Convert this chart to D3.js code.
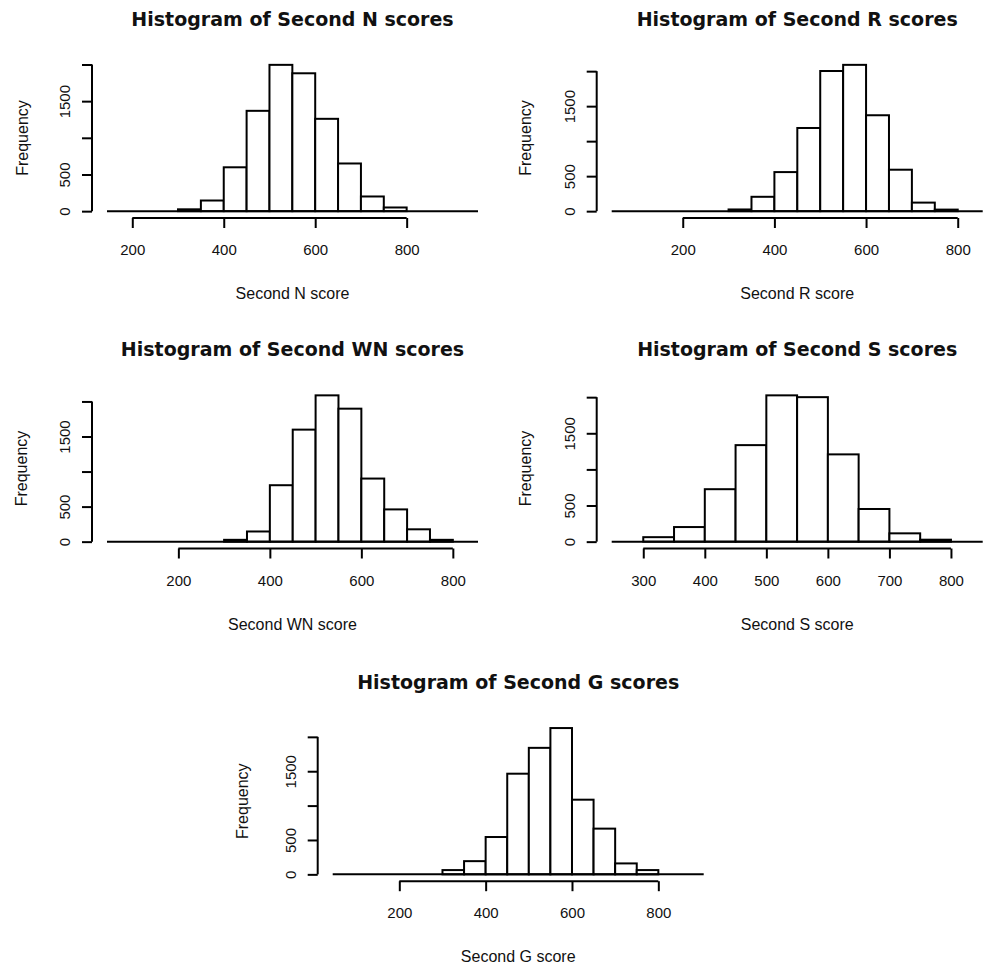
<!DOCTYPE html>
<html>
<head>
<meta charset="utf-8">
<script src="https://cdn.jsdelivr.net/npm/d3@7"></script>
<style>
  html, body { margin: 0; padding: 0; background: #fff; }
  svg { display: block; }
</style>
</head>
<body>
<svg id="chart" width="983" height="967"></svg>
<script>
// ---------- DATA ----------
const binEdges = [300, 350, 400, 450, 500, 550, 600, 650, 700, 750, 800];
const countsN  = [25, 145, 598, 1368, 1995, 1880, 1259, 650, 200, 50];
const countsR  = [24, 205, 558, 1188, 2002, 2090, 1370, 592, 122, 22];
const countsWN = [26, 145, 805, 1598, 2087, 1897, 900, 460, 176, 26];
const countsS  = [62, 202, 726, 1336, 2025, 2000, 1208, 452, 115, 27];
const countsG  = [62, 192, 543, 1464, 1840, 2128, 1086, 665, 159, 62];
const xTicksWide = [200, 400, 600, 800];
const xTicksS = [300, 400, 500, 600, 700, 800];
const yTicks = [0, 500, 1000, 1500, 2000];
const yTickLabelsShown = [0, 500, 1500];
const titles = ["Histogram of Second N scores", "Histogram of Second R scores",
                "Histogram of Second WN scores", "Histogram of Second S scores",
                "Histogram of Second G scores"];
const xLabels = ["Second N score", "Second R score", "Second WN score", "Second S score", "Second G score"];
const yLabel = "Frequency";

// ---------- LAYOUT ----------
const plotW = 371, plotH = 158;
const panels = [
  { title: titles[0], xlab: xLabels[0], counts: countsN,  ticks: xTicksWide, dom: [144.7, 956],   left: 107,   bottom: 217,   ylabOff: 64 },
  { title: titles[1], xlab: xLabels[1], counts: countsR,  ticks: xTicksWide, dom: [45, 854.5],    left: 611.7, bottom: 217,   ylabOff: 66 },
  { title: titles[2], xlab: xLabels[2], counts: countsWN, ticks: xTicksWide, dom: [44, 855],      left: 107,   bottom: 547.5, ylabOff: 65 },
  { title: titles[3], xlab: xLabels[3], counts: countsS,  ticks: xTicksS,    dom: [248.7, 851.6], left: 611.7, bottom: 547.5, ylabOff: 66 },
  { title: titles[4], xlab: xLabels[4], counts: countsG,  ticks: xTicksWide, dom: [45.7, 905.1],  left: 332.7, bottom: 880.2, ylabOff: 70 }
];

const svg = d3.select("#chart");
const ink = "#111";
const bodyFont = "'Liberation Sans', Arial, sans-serif";
const titleFont = "'DejaVu Sans', Verdana, sans-serif";

panels.forEach(p => {
  const top = p.bottom - plotH;
  const M = d3.max(p.counts);
  const x = d3.scaleLinear().domain(p.dom).range([p.left, p.left + plotW]);
  const y = d3.scaleLinear().domain([-0.04 * M, 1.04 * M]).range([p.bottom, top]);
  const g = svg.append("g");

  // bars
  const bins = p.counts.map((c, i) => ({ x0: binEdges[i], x1: binEdges[i + 1], c }));
  g.selectAll("rect.bar").data(bins).join("rect")
    .attr("class", "bar")
    .attr("x", d => x(d.x0))
    .attr("width", d => x(d.x1) - x(d.x0))
    .attr("y", d => y(d.c))
    .attr("height", d => y(0) - y(d.c))
    .attr("fill", "#fff")
    .attr("stroke", "#000")
    .attr("stroke-width", 2);

  // baseline across plot region
  g.append("line")
    .attr("x1", x(p.dom[0])).attr("x2", x(p.dom[1]))
    .attr("y1", y(0)).attr("y2", y(0))
    .attr("stroke", "#000").attr("stroke-width", 2);

  // x axis
  const xAxisY = p.bottom + 1;
  const xa = g.append("g").attr("transform", `translate(0,${xAxisY})`)
    .call(d3.axisBottom(x).tickValues(p.ticks).tickSize(10).tickSizeOuter(0).tickFormat(d3.format("d")));
  xa.select(".domain").remove();
  xa.selectAll(".tick line").attr("stroke", "#000").attr("stroke-width", 2);
  xa.selectAll(".tick text").attr("y", 37).attr("dy", 0)
    .attr("font-family", bodyFont).attr("font-size", 15).attr("fill", ink);
  xa.append("line")
    .attr("x1", x(p.ticks[0])).attr("x2", x(p.ticks[p.ticks.length - 1]))
    .attr("y1", 0).attr("y2", 0)
    .attr("stroke", "#000").attr("stroke-width", 2);

  // y axis
  const yAxisX = p.left - 15;
  const ya = g.append("g").attr("transform", `translate(${yAxisX},0)`)
    .call(d3.axisLeft(y).tickValues(yTicks).tickSize(10).tickSizeOuter(0)
      .tickFormat(d => yTickLabelsShown.includes(d) ? String(d) : ""));
  ya.select(".domain").remove();
  ya.selectAll(".tick line").attr("stroke", "#000").attr("stroke-width", 2);
  ya.selectAll(".tick text")
    .attr("x", 0).attr("y", 0).attr("dy", 0)
    .attr("transform", "translate(-22,0) rotate(-90)")
    .attr("text-anchor", "middle")
    .attr("font-family", bodyFont).attr("font-size", 15).attr("fill", ink);
  ya.append("line")
    .attr("x1", 0).attr("x2", 0)
    .attr("y1", y(yTicks[0])).attr("y2", y(yTicks[yTicks.length - 1]))
    .attr("stroke", "#000").attr("stroke-width", 2);

  // title
  const cx = p.left + plotW / 2;
  g.append("text")
    .attr("x", cx).attr("y", top - 33.5)
    .attr("text-anchor", "middle")
    .attr("font-family", titleFont).attr("font-weight", "bold").attr("font-size", 19)
    .attr("fill", ink)
    .text(p.title);

  // x label
  g.append("text")
    .attr("x", cx).attr("y", xAxisY + 81)
    .attr("text-anchor", "middle")
    .attr("font-family", bodyFont).attr("font-size", 16).attr("fill", ink)
    .text(p.xlab);

  // y label
  const cy = (top + p.bottom) / 2;
  g.append("text")
    .attr("transform", `translate(${yAxisX - p.ylabOff},${cy}) rotate(-90)`)
    .attr("text-anchor", "middle")
    .attr("font-family", bodyFont).attr("font-size", 16).attr("fill", ink)
    .text(yLabel);
});
</script>
</body>
</html>
